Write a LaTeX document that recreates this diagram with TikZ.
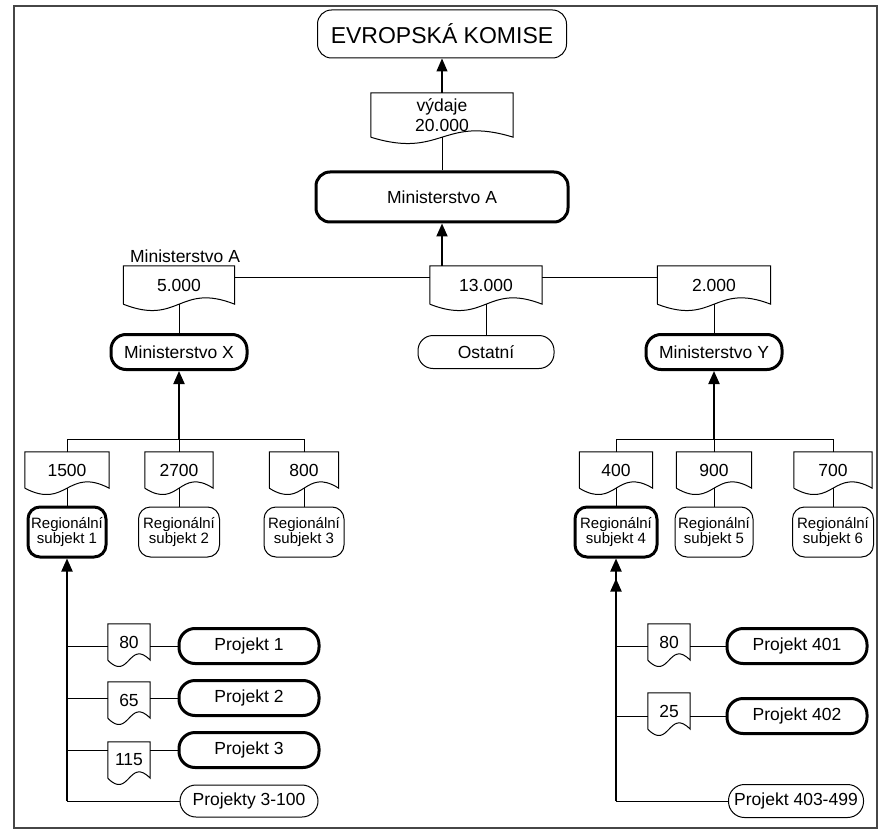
\documentclass[tikz,border=0pt]{standalone}
\usepackage{fontspec}
\setmainfont{Liberation Sans}
\usetikzlibrary{arrows.meta}

\definecolor{framegray}{RGB}{70,70,70}

\newcommand{\docshape}[1]{%
        \draw [conn] (#1.south west) -- (#1.north west) -- (#1.north east) -- (#1.south east)
                .. controls ([yshift=22pt]#1.south) and ([yshift=-22pt]#1.south) .. (#1.south west);}

\begin{document}
\begin{tikzpicture}[x=1pt, y=-1pt,
        every node/.style={font=\fontsize{17.5}{20}\selectfont},
        conn/.style={line width=1pt},
        arr/.style={line width=2pt, -{Triangle[length=13pt,width=11pt]}},
        term/.style={draw, line width=1pt, rounded corners=14pt, inner sep=0pt},
        termthick/.style={term, line width=3pt},
        docbox/.style={inner sep=0pt, minimum height=38pt},
        smalldoc/.style={inner sep=0pt, minimum width=42pt, minimum height=36pt},
        reg/.style={minimum height=50pt, align=center, rounded corners=12pt,
                font=\fontsize{15}{15}\selectfont},
        proj/.style={minimum width=140pt, minimum height=35pt, rounded corners=16pt}]
        \useasboundingbox (0,0) rectangle (878,829);
        \draw [line width=1.5pt, draw=framegray] (14,6) rectangle (877,828);

        \node [term, minimum width=249pt, minimum height=48pt, font=\fontsize{23}{26}\selectfont] (ek) at (442, 34) {EVROPSKÁ KOMISE};
        \node [docbox, minimum width=142pt, minimum height=44pt, align=center] (dv) at (442, 115) {výdaje\\20.000};
        \node [termthick, minimum width=252pt, minimum height=50pt] (ma) at (442, 197) {Ministerstvo A};

        \node [docbox, minimum width=111pt] (d5) at (179, 285) {5.000};
        \node [docbox, minimum width=112pt] (d13) at (486, 285) {13.000};
        \node [docbox, minimum width=113pt] (d2) at (714, 285) {2.000};
        \node [anchor=base] (lma) at (185, 262) {Ministerstvo A};
        \node [termthick, minimum width=136pt, minimum height=35pt, rounded corners=15pt] (mx) at (179, 352) {Ministerstvo X};
        \node [term, minimum width=136pt, minimum height=33pt, rounded corners=15pt] (os) at (486, 352) {Ostatní};
        \node [termthick, minimum width=136pt, minimum height=35pt, rounded corners=15pt] (my) at (714, 352) {Ministerstvo Y};

        \node [docbox, minimum width=84pt, minimum height=36pt] (d1500) at (67, 470) {1500};
        \node [docbox, minimum width=68pt, minimum height=36pt] (d2700) at (179, 470) {2700};
        \node [docbox, minimum width=69pt, minimum height=36pt] (d800) at (304, 470) {800};
        \node [docbox, minimum width=73pt, minimum height=36pt] (d400) at (616, 470) {400};
        \node [docbox, minimum width=75pt, minimum height=36pt] (d900) at (714, 470) {900};
        \node [docbox, minimum width=78pt, minimum height=36pt] (d700) at (833, 470) {700};

        \node [termthick, reg, minimum width=78pt] (s1) at (67, 532) {Regionální\\subjekt 1};
        \node [term, reg, minimum width=81pt] (s2) at (179, 532) {Regionální\\subjekt 2};
        \node [term, reg, minimum width=80pt] (s3) at (304, 532) {Regionální\\subjekt 3};
        \node [termthick, reg, minimum width=82pt] (s4) at (616, 532) {Regionální\\subjekt 4};
        \node [term, reg, minimum width=78pt] (s5) at (714, 532) {Regionální\\subjekt 5};
        \node [term, reg, minimum width=81pt] (s6) at (833, 532) {Regionální\\subjekt 6};

        \node [smalldoc] (d80) at (129, 642) {80};
        \node [smalldoc] (d65) at (129, 700) {65};
        \node [smalldoc] (d115) at (129, 760) {115};
        \node [termthick, proj] (p1) at (249, 646) {Projekt 1};
        \node [termthick, proj] (p2) at (249, 698) {Projekt 2};
        \node [termthick, proj] (p3) at (249, 750) {Projekt 3};
        \node [term, proj, minimum width=138pt, minimum height=32pt] (p3100) at (249, 801) {Projekty 3-100};

        \node [smalldoc] (d80b) at (669, 642) {80};
        \node [smalldoc] (d25) at (669, 711) {25};
        \node [termthick, proj] (p401) at (797, 646) {Projekt 401};
        \node [termthick, proj] (p402) at (797, 716) {Projekt 402};
        \node [term, proj, minimum width=135pt, minimum height=33pt] (p403) at (796, 801) {Projekt 403-499};

        \docshape{dv}
        \docshape{d5}
        \docshape{d13}
        \docshape{d2}
        \docshape{d1500}
        \docshape{d2700}
        \docshape{d800}
        \docshape{d400}
        \docshape{d900}
        \docshape{d700}
        \docshape{d80}
        \docshape{d65}
        \docshape{d115}
        \docshape{d80b}
        \docshape{d25}

        \draw [arr, line width=1.2pt] (dv.north) -- (ek.south);
        \draw [conn] (ma.north) -- (dv.south);
        \draw [arr] (d13.north -| ma.south) -- (ma.south);
        \draw [conn] ([yshift=-12pt]d5.north east) -- ([yshift=-12pt]d13.north west);
        \draw [conn] ([yshift=-12pt]d13.north east) -- ([yshift=-12pt]d2.north west);
        \draw [conn] (d5.south) -- (mx.north);
        \draw [conn] (d13.south) -- (os.north);
        \draw [conn] (d2.south) -- (my.north);

        \coordinate (bx) at ([yshift=12pt]d2700.north);
        \coordinate (by) at ([yshift=12pt]d900.north);
        \draw [arr] (bx) -- (mx.south);
        \draw [arr] (by) -- (my.south);
        \draw [conn] (d1500.north) |- (bx) -| (d800.north);
        \draw [conn] (bx) -- (d2700.north);
        \draw [conn] (d400.north) |- (by) -| (d700.north);
        \draw [conn] (by) -- (d900.north);
        \draw [conn] (d1500.south) -- (s1.north);
        \draw [conn] (d2700.south) -- (s2.north);
        \draw [conn] (d800.south) -- (s3.north);
        \draw [conn] (d400.south) -- (s4.north);
        \draw [conn] (d900.south) -- (s5.north);
        \draw [conn] (d700.south) -- (s6.north);

        \draw [arr] (p3100.west -| s1.south) -- (s1.south);
        \draw [conn] (p3100.west -| s1.south) -- (p3100.west);
        \draw [conn] (p1.west -| s1.south) -- (p1.west -| d80.west);
        \draw [conn] (p1.west -| d80.east) -- (p1.west);
        \draw [conn] (p2.west -| s1.south) -- (p2.west -| d65.west);
        \draw [conn] (p2.west -| d65.east) -- (p2.west);
        \draw [conn] (p3.west -| s1.south) -- (p3.west -| d115.west);
        \draw [conn] (p3.west -| d115.east) -- (p3.west);

        \draw [arr] (p403.west -| s4.south) -- (s4.south);
        \draw [arr] (p403.west -| s4.south) -- ([yshift=-20pt]s4.south);
        \draw [conn] (p403.west -| s4.south) -- (p403.west);
        \draw [conn] (p401.west -| s4.south) -- (p401.west -| d80b.west);
        \draw [conn] (p401.west -| d80b.east) -- (p401.west);
        \draw [conn] (p402.west -| s4.south) -- (p402.west -| d25.west);
        \draw [conn] (p402.west -| d25.east) -- (p402.west);
\end{tikzpicture}
\end{document}
